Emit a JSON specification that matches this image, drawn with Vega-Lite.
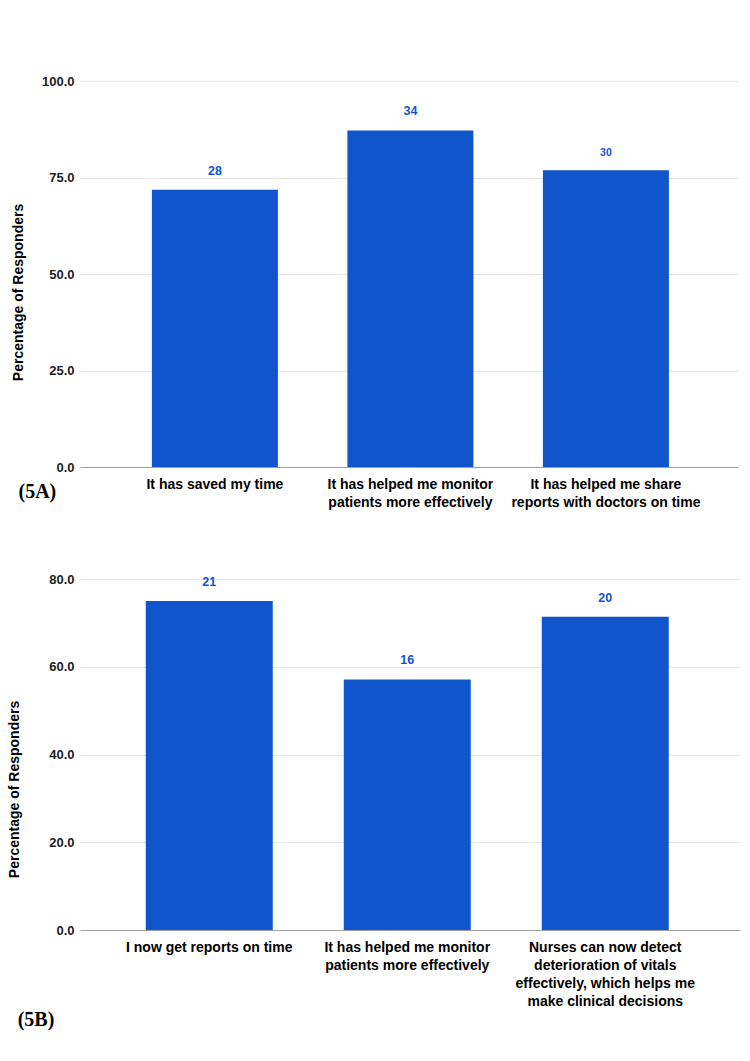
{
  "$schema": "https://vega.github.io/schema/vega-lite/v6.json",
  "background": "white",
  "padding": {"top": 75, "left": 7, "right": 2, "bottom": 5},
  "spacing": 64,
  "columns": 1,
  "config": {
    "font": "Liberation Sans",
    "view": {"stroke": null},
    "axis": {"labelFont": "Liberation Sans", "titleFont": "Liberation Sans"}
  },
  "datasets": {
    "a": [
      {"label": "It has saved my time", "pct": 71.8, "count": 28},
      {"label": "It has helped me monitor\npatients more effectively", "pct": 87.2, "count": 34},
      {"label": "It has helped me share\nreports with doctors on time", "pct": 76.9, "count": 30}
    ],
    "b": [
      {"label": "I now get reports on time", "pct": 75.0, "count": 21},
      {"label": "It has helped me monitor\npatients more effectively", "pct": 57.1, "count": 16},
      {"label": "Nurses can now detect\ndeterioration of vitals\neffectively, which helps me\nmake clinical decisions", "pct": 71.4, "count": 20}
    ]
  },
  "concat": [
    {
      "width": 658,
      "height": 386,
      "data": {"name": "a"},
      "title": {"text": "(5A)", "orient": "bottom", "anchor": "start", "frame": "bounds", "font": "Liberation Serif", "fontSize": 20, "fontWeight": "bold", "color": "#000000", "offset": -27, "dx": 7},
      "encoding": {
        "x": {"field": "label", "type": "nominal", "sort": null,
          "scale": {"paddingInner": 0.3555, "paddingOuter": 0.3606, "align": 0.51},
          "axis": {"title": null, "labelAngle": 0, "labelExpr": "split(datum.value, '\\n')", "labelFontSize": 14, "labelFontWeight": "bold", "labelColor": "#000000", "labelLineHeight": 18, "labelPadding": 10, "labelLimit": 300, "ticks": false, "domainColor": "#9e9e9e", "grid": false}},
        "y": {"field": "pct", "type": "quantitative",
          "scale": {"domain": [0, 100]},
          "axis": {"title": "Percentage of Responders", "titleFontSize": 14, "titleFontWeight": "bold", "titleColor": "#000000", "titleY": 211, "titlePadding": 16, "values": [0, 25, 50, 75, 100], "format": ".1f", "labelFontSize": 13, "labelFontWeight": "bold", "labelColor": "#222222", "labelPadding": 6, "ticks": false, "domain": false, "gridColor": "#e6e6e6"}}
      },
      "layer": [
        {"mark": {"type": "bar", "color": "#1155cc"}},
        {"mark": {"type": "text", "baseline": "bottom", "dy": -12, "fontWeight": "bold", "color": "#1155cc"},
          "encoding": {"text": {"field": "count", "type": "quantitative"},
            "size": {"condition": {"test": "datum.count === 30", "value": 10.5}, "value": 12.5}}}
      ]
    },
    {
      "width": 660,
      "height": 351,
      "data": {"name": "b"},
      "title": {"text": "(5B)", "orient": "bottom", "anchor": "start", "frame": "bounds", "font": "Liberation Serif", "fontSize": 20, "fontWeight": "bold", "color": "#000000", "offset": 2, "dx": 10},
      "encoding": {
        "x": {"field": "label", "type": "nominal", "sort": null,
          "scale": {"paddingInner": 0.3586, "paddingOuter": 0.346, "align": 0.48},
          "axis": {"title": null, "labelAngle": 0, "labelExpr": "split(datum.value, '\\n')", "labelFontSize": 14, "labelFontWeight": "bold", "labelColor": "#000000", "labelLineHeight": 18, "labelPadding": 10, "labelLimit": 300, "ticks": false, "domainColor": "#9e9e9e", "grid": false}},
        "y": {"field": "pct", "type": "quantitative",
          "scale": {"domain": [0, 80]},
          "axis": {"title": "Percentage of Responders", "titleFontSize": 14, "titleFontWeight": "bold", "titleColor": "#000000", "titleY": 210, "titlePadding": 27, "values": [0, 20, 40, 60, 80], "format": ".1f", "labelFontSize": 13, "labelFontWeight": "bold", "labelColor": "#222222", "labelPadding": 6, "ticks": false, "domain": false, "gridColor": "#e6e6e6"}}
      },
      "layer": [
        {"mark": {"type": "bar", "color": "#1155cc"}},
        {"mark": {"type": "text", "baseline": "bottom", "dy": -12, "fontWeight": "bold", "color": "#1155cc"},
          "encoding": {"text": {"field": "count", "type": "quantitative"},
            "size": {"value": 12.5},
            "yOffset": {"condition": {"test": "datum.count === 21", "value": 6}, "value": 0}}}
      ]
    }
  ]
}
